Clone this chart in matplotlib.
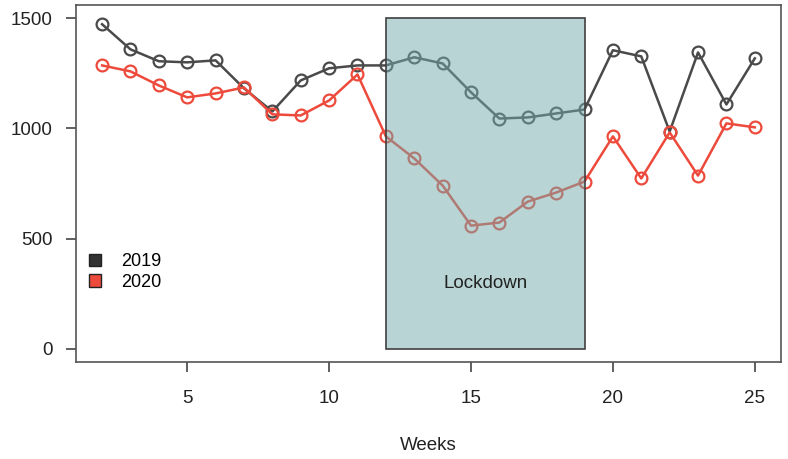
import matplotlib.pyplot as plt
from matplotlib.patches import Rectangle, Patch
import numpy as np

plt.rcParams.update({'font.size': 13, 'font.family': 'Liberation Sans'})

weeks = list(range(2, 26))
y2019 = [1473, 1359, 1305, 1300, 1309, 1182, 1077, 1218, 1273, 1286, 1286, 1323,
         1295, 1164, 1045, 1050, 1068, 1086, 1355, 1327, 986, 1345, 1109, 1318]
y2020 = [1286, 1259, 1195, 1141, 1159, 1186, 1064, 1059, 1127, 1245, 964, 864,
         741, 559, 573, 668, 709, 759, 964, 773, 982, 786, 1023, 1005]
lock_start, lock_end, lock_top = 12, 19, 1500

col19 = '#4a4a4a'
col20 = '#ee4a3c'

fig = plt.figure(figsize=(7.88, 4.59), dpi=100)
ax = fig.add_axes([0.0964, 0.2113, 0.8946, 0.7777])

ax.plot(weeks, y2019, color=col19, lw=1.8, marker='o', ms=8.5, mfc='none', mew=1.6, zorder=2)
ax.plot(weeks, y2020, color=col20, lw=1.8, marker='o', ms=8.5, mfc='none', mew=1.6, zorder=2)

ax.add_patch(Rectangle((lock_start, 0), lock_end - lock_start, lock_top,
                       facecolor='#73abad', alpha=0.5, edgecolor='none', zorder=3))
ax.add_patch(Rectangle((lock_start, 0), lock_end - lock_start, lock_top,
                       facecolor='none', edgecolor='#404040', lw=1.2, zorder=4))
ax.text(15.5, 295, 'Lockdown', ha='center', va='center', fontsize=13.5, color='#222222', zorder=5)

ax.set_xlim(1.08, 25.92)
ax.set_ylim(-60, 1560)
ax.set_xticks([5, 10, 15, 20, 25])
ax.set_yticks([0, 500, 1000, 1500])
ax.tick_params(direction='out', length=7, width=1.2, color='#444444', labelsize=13.5,
               labelcolor='#222222', pad=10)
ax.tick_params(axis='x', pad=13)
for s in ax.spines.values():
    s.set_color('#555555')
    s.set_linewidth(1.2)
ax.set_xlabel('Weeks', fontsize=13.5, color='#222222', labelpad=22)

handles = [Patch(facecolor='#333333', edgecolor='#222222', label='2019'),
           Patch(facecolor=col20, edgecolor='#222222', label='2020')]
ax.legend(handles=handles, loc='upper left', bbox_to_anchor=(0.0, 0.34), frameon=False,
          fontsize=13, handlelength=0.7, handleheight=0.7, handletextpad=1.1,
          labelspacing=0.2, borderaxespad=0.3)

fig.savefig('out.png', dpi=100)
